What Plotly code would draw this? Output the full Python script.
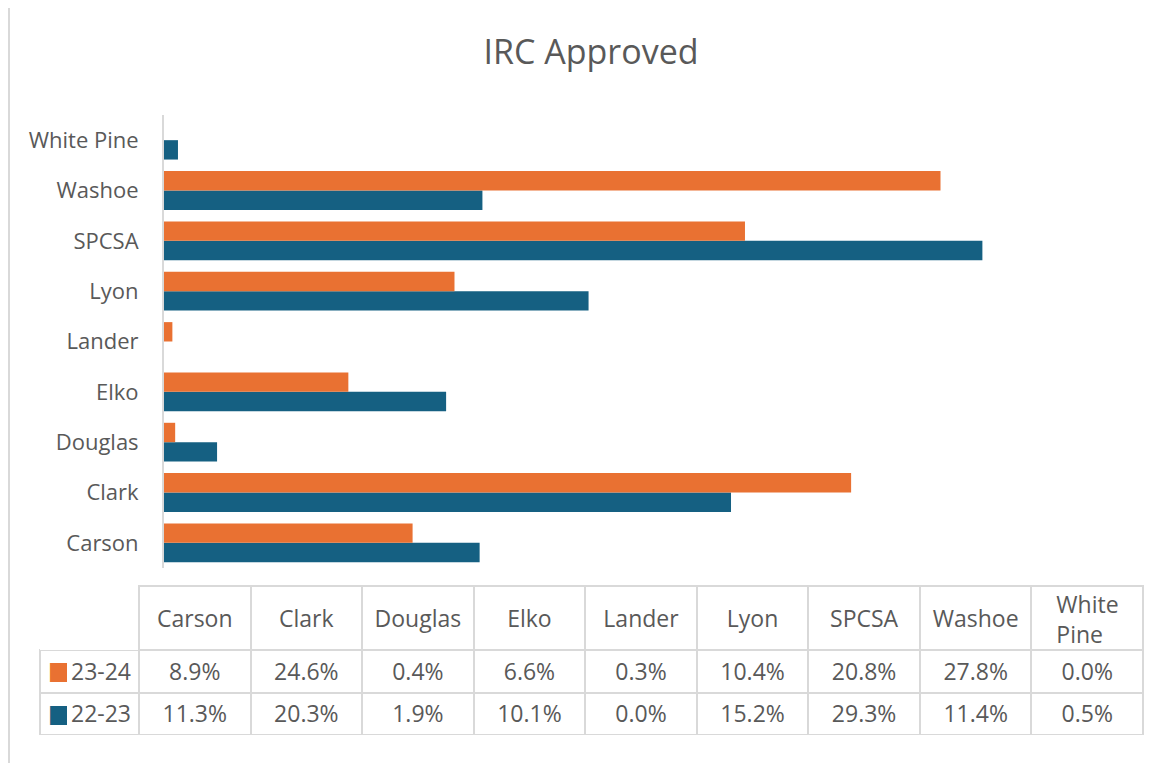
import plotly.graph_objects as go

categories = ["Carson", "Clark", "Douglas", "Elko", "Lander", "Lyon", "SPCSA", "Washoe", "White Pine"]
series_names = ["23-24", "22-23"]
v_2324 = [8.9, 24.6, 0.4, 6.6, 0.3, 10.4, 20.8, 27.8, 0.0]
v_2223 = [11.3, 20.3, 1.9, 10.1, 0.0, 15.2, 29.3, 11.4, 0.5]

ORANGE = "#E97132"
BLUE = "#156082"
TEXT = "#595959"
GRID = "#D9D9D9"
NONE = "rgba(0,0,0,0)"
FONT = "Open Sans"

# the page body has an 8px margin; the figure is sized to fill the rest of the window
W, H = 1158, 755
OFF = 8


def fx(p):
    return (p - OFF) / W


def fy(p):
    return 1 - (p - OFF) / H


n = len(categories)
col_w = [99] + [111.56] * n

fig = go.Figure()
fig.add_trace(go.Bar(y=categories, x=v_2223, name=series_names[1], orientation="h",
                     marker=dict(color=BLUE, line=dict(width=0))))
fig.add_trace(go.Bar(y=categories, x=v_2324, name=series_names[0], orientation="h",
                     marker=dict(color=ORANGE, line=dict(width=0))))

# data table: grid
fig.add_trace(go.Table(
    domain=dict(x=[fx(40), fx(1143)], y=[fy(736), fy(586)]),
    columnwidth=col_w,
    header=dict(values=[""] * (n + 1), height=64,
                fill=dict(color="white"),
                line=dict(color=[NONE] + [GRID] * n, width=2)),
    cells=dict(values=[["", ""]] * (n + 1), height=42.5,
               fill=dict(color="white"),
               line=dict(color=GRID, width=2)),
))

# data table: text (series names, column labels, values)
value_cols = [[f"{a:.1f}%", f"{b:.1f}%"] for a, b in zip(v_2324, v_2223)]
fig.add_trace(go.Table(
    domain=dict(x=[fx(40), fx(1143)], y=[fy(742), fy(601.5)]),
    columnwidth=[24, 75] + [111.56] * n,
    header=dict(values=["", ""] + categories[:-1] + [""], height=53.5,
                align="center",
                fill=dict(color=NONE), line=dict(color=NONE, width=0),
                font=dict(family=FONT, size=23, color=TEXT)),
    cells=dict(values=[["", ""], series_names] + value_cols, height=42,
               align=["left", "right"] + ["center"] * n,
               fill=dict(color=NONE), line=dict(color=NONE, width=0),
               font=dict(family=FONT, size=23, color=TEXT)),
))

# data table: legend keys
for top, col in [(652.4, ORANGE), (694.9, BLUE)]:
    fig.add_trace(go.Table(
        domain=dict(x=[fx(40), fx(68)], y=[fy(top + 40), fy(top)]),
        header=dict(values=["■"], height=36, align="left",
                    fill=dict(color=NONE), line=dict(color=NONE, width=0),
                    font=dict(family="DejaVu Sans", size=25, color=col)),
        cells=dict(values=[[]], height=1, fill=dict(color=NONE), line=dict(color=NONE, width=0)),
    ))

# data table: two-line column label
fig.add_trace(go.Table(
    domain=dict(x=[fx(1032), fx(1143)], y=[fy(720), fy(580)]),
    header=dict(values=[categories[-1].replace(" ", "<br>")], height=64, align="center",
                fill=dict(color=NONE), line=dict(color=NONE, width=0),
                font=dict(family=FONT, size=23, color=TEXT)),
    cells=dict(values=[[""]], height=20, fill=dict(color=NONE), line=dict(color=NONE, width=0)),
))

fig.update_layout(
    width=W, height=H,
    margin=dict(l=0, r=0, t=0, b=0),
    paper_bgcolor="white",
    plot_bgcolor="white",
    barmode="group",
    bargap=0.23,
    bargroupgap=0,
    showlegend=False,
    title=dict(text="IRC Approved", x=fx(591), xanchor="center", y=fy(52), yanchor="middle",
               font=dict(family=FONT, size=34, color=TEXT)),
    xaxis=dict(domain=[fx(164), fx(1143)], range=[0, 35.05], visible=False, fixedrange=True),
    yaxis=dict(domain=[fy(568), fy(115)], showline=True, linecolor=GRID, linewidth=2,
               showgrid=False, zeroline=False, ticks="", ticklabelstandoff=19,
               tickfont=dict(family=FONT, size=22, color=TEXT), automargin=False,
               categoryorder="array", categoryarray=categories, fixedrange=True),
    shapes=[dict(type="line", xref="paper", yref="paper",
                 x0=fx(9), x1=fx(9), y0=0, y1=1,
                 line=dict(color=GRID, width=2), layer="below")],
)

fig.write_html("out.html")
